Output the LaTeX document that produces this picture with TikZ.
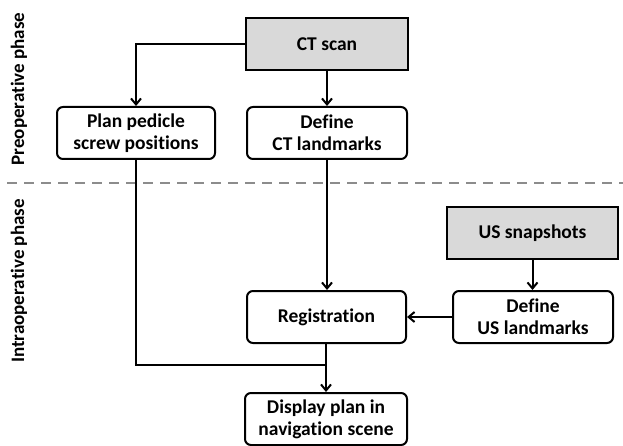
\documentclass[tikz,border=0pt]{standalone}
\usepackage{fontspec}
\setmainfont[Ligatures=NoCommon]{Carlito}
\usetikzlibrary{arrows.meta}
\begin{document}
\begin{tikzpicture}[x=1pt,y=-1pt,
  every node/.style={font=\bfseries\fontsize{19.5}{22}\selectfont, align=center, inner sep=0pt},
  roundbox/.style={draw, line width=2pt, rounded corners=6pt, minimum width=#1, minimum height=52pt},
  roundbox/.default=160pt,
  grayrect/.style={draw, line width=2pt, fill=black!15, minimum width=#1, minimum height=52pt},
  grayrect/.default=162pt,
  conn/.style={line width=2pt, -{Straight Barb[length=6pt,width=10pt,line width=2pt]}},
  plain/.style={line width=2pt},
  phase/.style={rotate=90, font=\bfseries\fontsize{19}{22}\selectfont}]
\useasboundingbox (0,0) rectangle (623,446);

% phase separator
\draw[black!45, line width=2pt, dash pattern=on 10pt off 7pt] (7,183) -- (623,183);
\node[phase] (pre) at (19,89) {Preoperative phase};
\node[phase] (intra) at (19,281) {Intraoperative phase};

% preoperative steps
\node[grayrect] (ct) at (327,44) {CT scan};
\node[roundbox=158pt] (plan) at (136,133) {Plan pedicle\\screw positions};
\node[roundbox] (defct) at (327,133) {Define\\CT landmarks};

% intraoperative steps
\node[grayrect=171pt] (us) at (532.5,233) {US snapshots};
\node[roundbox] (defus) at (533,317) {Define\\US landmarks};
\node[roundbox=159pt] (reg) at (326.5,317) {Registration};
\node[roundbox=162pt] (disp) at (326,419) {Display plan in\\navigation scene};

\coordinate (join) at (disp.north |- 0,365);

% connectors
\draw[conn] (ct.west) -| (plan.north);
\draw[conn] (ct.south) -- (defct.north);
\draw[conn] (defct.south) -- (reg.north -| defct.south);
\draw[conn] (us.south) -- (defus.north -| us.south);
\draw[conn] (defus.west) -- (reg.east);
\draw[plain] (plan.south) |- (join);
\draw[conn] (reg.south -| join) -- (disp.north -| join);
\end{tikzpicture}
\end{document}
